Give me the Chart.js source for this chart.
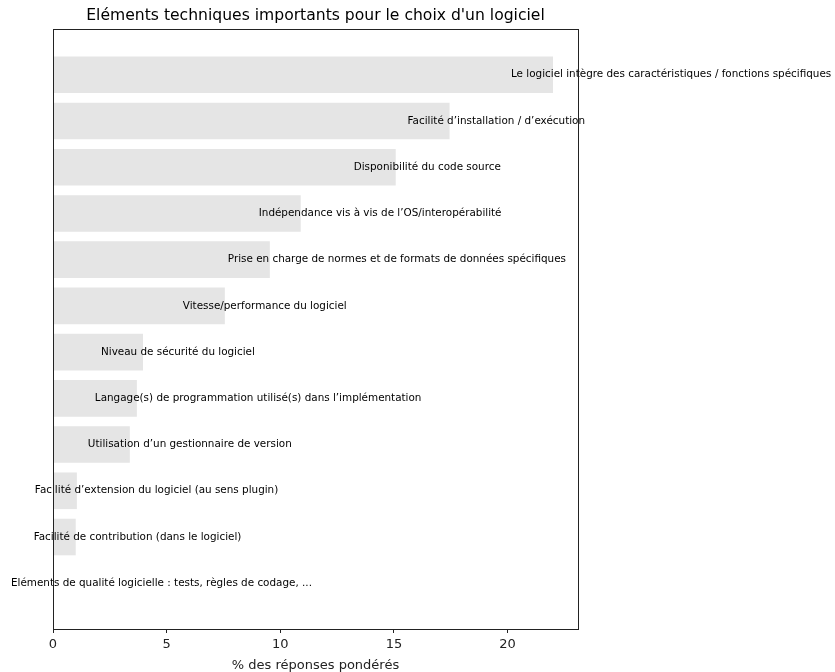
<!DOCTYPE html>
<html lang="fr">
<head>
  <meta charset="UTF-8">
  <title>Eléments techniques</title>
  <style>
    html, body { margin: 0; padding: 0; background: #fff; }
    #wrap { width: 835px; height: 672px; }
  </style>
</head>
<body>
  <div id="wrap"><canvas id="chart"></canvas></div>
  <script src="https://cdn.jsdelivr.net/npm/chart.js"></script>
  <script>
    // categories, du haut vers le bas
    const categories = [
      'Le logiciel intègre des caractéristiques / fonctions spécifiques',
      'Facilité d\u2019installation / d\u2019exécution',
      'Disponibilité du code source',
      'Indépendance vis à vis de l\u2019OS/interopérabilité',
      'Prise en charge de normes et de formats de données spécifiques',
      'Vitesse/performance du logiciel',
      'Niveau de sécurité du logiciel',
      'Langage(s) de programmation utilisé(s) dans l\u2019implémentation',
      'Utilisation d\u2019un gestionnaire de version',
      'Facilité d\u2019extension du logiciel (au sens plugin)',
      'Facilité de contribution (dans le logiciel)',
      'Eléments de qualité logicielle : tests, règles de codage, ...'
    ];
    const values = [22.0, 17.45, 15.08, 10.9, 9.54, 7.56, 3.96, 3.69, 3.38, 1.05, 1.0, 0];
    const xTicks = [0, 5, 10, 15, 20];

    const titleText = 'Eléments techniques importants pour le choix d\'un logiciel';
    const xTitle = '% des réponses pondérés';

    const FONT = '"DejaVu Sans", sans-serif';

    // cadre + titre + étiquettes des barres
    const decor = {
      id: 'decor',
      afterDatasetsDraw(chart) {
        const { ctx, chartArea: a, scales } = chart;
        ctx.save();
        ctx.fillStyle = '#000';
        ctx.font = '10.4px ' + FONT;
        ctx.textAlign = 'left';
        ctx.textBaseline = 'middle';
        categories.forEach((c, i) => {
          const x = scales.x.getPixelForValue(values[i]) - 42;
          const y = scales.y.getPixelForValue(i);
          ctx.fillText(c, x, y);
        });
        ctx.strokeStyle = '#222';
        ctx.lineWidth = 1;
        ctx.strokeRect(a.left + 0.5, a.top + 0.5, a.right - a.left, a.bottom - a.top);
        ctx.font = '15.6px ' + FONT;
        ctx.textAlign = 'center';
        ctx.textBaseline = 'alphabetic';
        ctx.fillText(titleText, (a.left + a.right) / 2, a.top - 9);
        ctx.restore();
      }
    };

    new Chart(document.getElementById('chart'), {
      type: 'bar',
      data: {
        datasets: [{
          data: values.map((v, i) => ({ x: v, y: i })),
          backgroundColor: '#e5e5e5',
          borderWidth: 0,
          barPercentage: 1,
          categoryPercentage: 0.8
        }]
      },
      options: {
        indexAxis: 'y',
        responsive: true,
        maintainAspectRatio: false,
        animation: false,
        layout: { padding: { left: 53, right: 257, top: 29, bottom: 0 } },
        plugins: { legend: { display: false }, tooltip: { enabled: false } },
        scales: {
          y: {
            type: 'linear',
            display: false,
            offset: false,
            reverse: true,
            min: -0.99,
            max: 11.99
          },
          x: {
            type: 'linear',
            min: 0,
            max: 23.1,
            afterFit: s => { s.height = 43; },
            afterBuildTicks: s => { s.ticks = xTicks.map(v => ({ value: v })); },
            border: { display: false },
            grid: { drawOnChartArea: false, drawTicks: true, tickLength: 4, color: '#222' },
            ticks: { color: '#222', font: { family: FONT, size: 13 }, padding: 4, autoSkip: false, maxRotation: 0 },
            title: { display: true, text: xTitle, color: '#222', font: { family: FONT, size: 13, lineHeight: 1.0 }, padding: { top: 0, bottom: 0 } }
          }
        }
      },
      plugins: [decor]
    });
  </script>
</body>
</html>
